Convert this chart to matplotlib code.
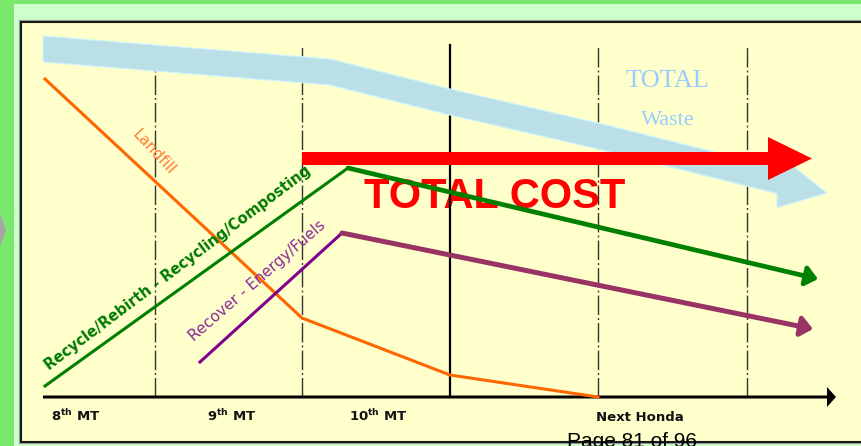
import numpy as np
import matplotlib.pyplot as plt
from matplotlib.patches import Rectangle, Polygon, FancyArrow

# canvas 862 x 446 px, one data unit = one pixel, levels measured up from the time axis
W, H = 862, 446
BASE = 397  # pixel row of the time axis

# time axis: milestone boundaries (the 10th MT / Next Honda one is solid)
period_x = [155, 302, 450, 598, 747]
period_solid = [False, False, True, False, False]
period_top = 352
milestone_labels = [r'$\mathbf{8^{th}}$ MT', r'$\mathbf{9^{th}}$ MT', r'$\mathbf{10^{th}}$ MT', 'Next Honda']
milestone_x = [76, 232, 378, 640]

# Landfill
landfill_x = [45, 302, 450, 598]
landfill_y = [318, 79, 22, 0]

# Recycle/Rebirth - Recycling/Composting
recycle_x = [45, 348, 818]
recycle_y = [11, 229, 118]

# Recover - Energy/Fuels
recover_x = [200, 342, 813]
recover_y = [35, 164, 68]

# total waste trend (centre line of the wide band, last point = arrow tip)
waste_x = [43, 330, 450, 600, 827]
waste_y = [348, 325, 295, 260.5, 204]

# total cost, flat from the 10th MT on
cost_x = [302, 812]
cost_y = [238.5, 238.5]


fig = plt.figure(figsize=(W / 100, H / 100), dpi=100, facecolor='#7ae86c')
ax = fig.add_axes([0, 0, 1, 1])
ax.set_xlim(0, W)
ax.set_ylim(BASE - H, BASE)
ax.axis('off')

# slide frame
ax.add_patch(Rectangle((14, BASE - H), W, H - 4, fc='#ccffcc', ec='none', zorder=0))
ax.add_patch(Rectangle((19, BASE - 443), W, 443 - 20, fc='none', ec='#9a9a9a', lw=0.8, zorder=0.2))
ax.add_patch(Rectangle((21, BASE - 442), W, 442 - 22, fc='#ffffcc', ec='#1a1a1a', lw=1.5, zorder=0.3))
ax.add_patch(Polygon([(0, BASE - 213), (6, BASE - 230), (0, BASE - 247)], closed=True,
                     fc='#a6a6a6', ec='none', zorder=0.1))

# big title behind the grid lines
ax.text(495, BASE - 208, 'TOTAL COST', color='#ff0000', fontsize=30, fontweight='bold',
        family='Liberation Sans', ha='center', va='baseline', zorder=1.5)

# milestone boundaries
for x, solid in zip(period_x, period_solid):
    if solid:
        ax.plot([x, x], [0, period_top], color='black', lw=1.6, zorder=2)
    else:
        ax.plot([x, x], [0, period_top], color='#333333', lw=1.0,
                dashes=(14, 2.2, 1.4, 2.2), zorder=2)

# wide "total waste" band with arrow head
hw = 13
head_len = 50
head_hw = 27
xb = waste_x[-1] - head_len
yb = np.interp(xb, waste_x, waste_y)
sx = list(waste_x[:-1]) + [xb]
sy = list(waste_y[:-1]) + [yb]
top = [(x, y + hw) for x, y in zip(sx, sy)]
bot = [(x, y - hw) for x, y in zip(sx, sy)][::-1]
head = [(xb, yb + head_hw), (waste_x[-1], waste_y[-1]), (xb, yb - head_hw)]
ax.add_patch(Polygon(top + head + bot, closed=True, fc='#bbdfe6', ec='#cdf6ff', lw=0.8, zorder=3))

ax.text(668, BASE - 87, 'TOTAL', color='#99ccff', fontsize=19, family='Liberation Serif',
        ha='center', va='baseline', zorder=3)
ax.text(668, BASE - 125, 'Waste', color='#99ccff', fontsize=16, family='Liberation Serif',
        ha='center', va='baseline', zorder=3)

# time axis
ax.add_patch(FancyArrow(43, 0, 836 - 43, 0, width=3, head_width=20, head_length=9,
                        length_includes_head=True, color='black', lw=0, zorder=3.5))
for x, lab in zip(milestone_x, milestone_labels):
    ax.text(x, BASE - 421, lab, fontsize=9.5, fontweight='bold', color='#111111',
            ha='center', va='baseline', zorder=6)

# landfill
ax.plot(landfill_x, landfill_y, color='#ff6600', lw=2.2, zorder=4, solid_joinstyle='round')

# recycle: thin rising part, thick falling part with arrow
ax.plot(recycle_x[:2], recycle_y[:2], color='#008000', lw=2.2, zorder=4)
ax.annotate('', xy=(recycle_x[2], recycle_y[2]), xytext=(recycle_x[1], recycle_y[1]),
            arrowprops=dict(arrowstyle='-|>,head_length=0.5,head_width=0.42', color='#008000',
                            lw=3.4, mutation_scale=14, shrinkA=0, shrinkB=0), zorder=4)

# recover
ax.plot(recover_x[:2], recover_y[:2], color='#800090', lw=2.2, zorder=4)
ax.annotate('', xy=(recover_x[2], recover_y[2]), xytext=(recover_x[1], recover_y[1]),
            arrowprops=dict(arrowstyle='-|>,head_length=0.5,head_width=0.42', color='#993366',
                            lw=3.6, mutation_scale=14, shrinkA=0, shrinkB=0), zorder=4)

# total cost arrow
ax.add_patch(FancyArrow(cost_x[0], cost_y[0], cost_x[1] - cost_x[0], cost_y[1] - cost_y[0],
                        width=13, head_width=43, head_length=44, length_includes_head=True,
                        color='#ff0000', lw=0, zorder=5))

# line labels along the curves
ax.text(154, BASE - 152, 'Landfill', color='#ff7a33', fontsize=11, rotation=-47,
        rotation_mode='anchor', ha='center', va='center', zorder=6)
ax.text(178, BASE - 268, 'Recycle/Rebirth - Recycling/Composting', color='#007a00',
        fontsize=10.5, fontweight='bold', rotation=37, rotation_mode='anchor',
        ha='center', va='center', zorder=6)
ax.text(257, BASE - 281, 'Recover - Energy/Fuels', color='#8a2a9a', fontsize=11,
        rotation=41, rotation_mode='anchor', ha='center', va='center', zorder=6)

ax.text(632, BASE - 447, 'Page 81 of 96', fontsize=15, family='Liberation Sans', color='black',
        ha='center', va='baseline', zorder=7)

fig.savefig('out.png', dpi=100, facecolor=fig.get_facecolor())
